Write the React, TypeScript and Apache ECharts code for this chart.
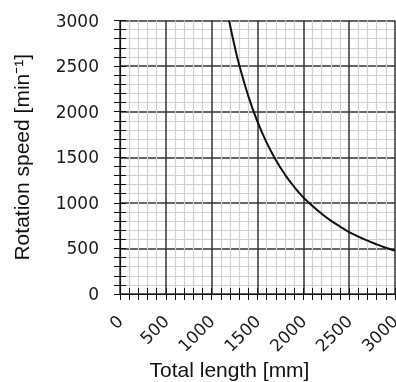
import React, { useEffect, useRef } from "react";
import * as echarts from "echarts";

// Curve (total length in mm -> rotation speed in min^-1)
const lengths = [1190, 1250, 1300, 1400, 1500, 1600, 1700, 1800, 1900, 2000, 2100, 2200, 2300, 2400, 2500, 2600, 2700, 2800, 2900, 3000];
const speeds = [3000, 2720, 2515, 2170, 1890, 1660, 1470, 1310, 1175, 1060, 965, 880, 805, 740, 680, 630, 585, 545, 508, 475];

const xTitle = "Total length [mm]";
const yTitle = "Rotation speed [min\u207B\u00B9]";

const MAJOR = "#333333";
const MINOR = "#d0d0d0";

export default function App() {
  const ref = useRef<HTMLDivElement>(null);
  useEffect(() => {
    if (!ref.current) return;
    const chart = echarts.init(ref.current, null, { renderer: "svg" });
    const baseAxis = (extra: any) => ({
      type: "value",
      min: 0,
      max: 3000,
      interval: 500,
      minorTick: { show: true, splitNumber: 5, length: 6, lineStyle: { color: "#111", width: 1 } },
      axisTick: { show: true, length: 6, lineStyle: { color: "#111", width: 1 } },
      ...extra,
    });
    const labelStyle = {
      color: "#1a1a1a",
      fontFamily: "DejaVu Sans",
      fontSize: 17,
      formatter: (v: number) => String(v),
    };
    chart.setOption({
      animation: false,
      grid: {
        left: 120,
        right: 1,
        top: 20.5,
        bottom: 88,
        containLabel: false,
        outerBoundsMode: "none",
      },
      xAxis: [
        baseAxis({
          position: "bottom",
          axisLine: { show: true, lineStyle: { color: "#111", width: 1.2 } },
          axisLabel: { ...labelStyle, rotate: 45, margin: 24, showMaxLabel: true, showMinLabel: true },
          splitLine: { show: true, lineStyle: { color: MAJOR, width: 1.5 } },
          minorSplitLine: { show: true, lineStyle: { color: MINOR, width: 1.2 } },
        }),
        baseAxis({
          position: "bottom",
          axisLine: { show: false },
          axisTick: { show: true, inside: true, length: 6, lineStyle: { color: "#111", width: 1 } },
          axisLabel: { show: false },
          splitLine: { show: false },
        }),
      ],
      yAxis: [
        baseAxis({
          position: "left",
          name: yTitle,
          nameLocation: "middle",
          nameGap: 88,
          nameTextStyle: { fontFamily: "Liberation Sans", fontSize: 21, color: "#111" },
          axisLine: { show: true, lineStyle: { color: "#111", width: 1.2 } },
          axisLabel: { ...labelStyle, margin: 21 },
          splitLine: { show: true, lineStyle: { color: MAJOR, width: 1.5 } },
          minorSplitLine: { show: true, lineStyle: { color: MINOR, width: 1.2 } },
        }),
        baseAxis({
          position: "left",
          axisLine: { show: false },
          axisTick: { show: true, inside: true, length: 6, lineStyle: { color: "#111", width: 1 } },
          axisLabel: { show: false },
          splitLine: { show: false },
        }),
      ],
      graphic: [
        {
          type: "text",
          x: 229.5,
          y: 359,
          style: {
            text: xTitle,
            font: '21px "Liberation Sans"',
            fill: "#111",
            textAlign: "center",
            textVerticalAlign: "top",
          },
        },
      ],
      series: [
        {
          type: "line",
          xAxisIndex: 0,
          yAxisIndex: 0,
          data: lengths.map((l, i) => [l, speeds[i]]),
          smooth: true,
          showSymbol: false,
          lineStyle: { color: "#111", width: 2 },
          clip: true,
        },
      ],
    });
    return () => chart.dispose();
  }, []);
  return <div ref={ref} style={{ position: "fixed", left: 0, top: 0, width: 396, height: 382 }} />;
}
